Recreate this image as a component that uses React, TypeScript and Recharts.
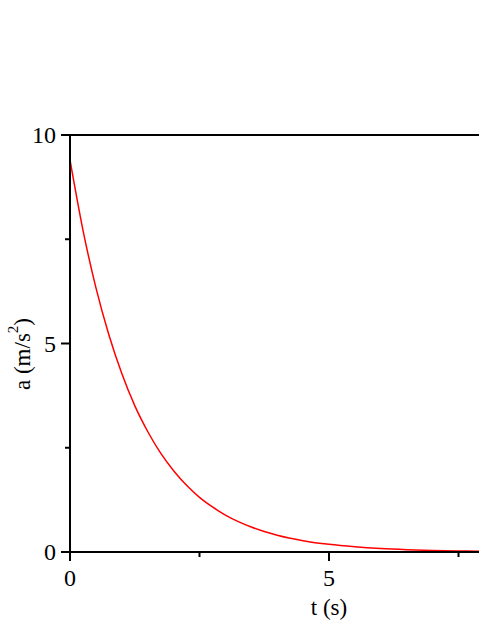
import React from 'react';
import { LineChart, Line, XAxis, YAxis, ReferenceLine } from 'recharts';

const tValues = [0, 0.25, 0.5, 0.75, 1.0, 1.25, 1.5, 1.75, 2.0, 2.25, 2.5, 2.75, 3.0, 3.25, 3.5, 3.75, 4.0, 4.5, 5.0, 5.5, 6.0, 6.5, 7.0, 7.5, 8.0, 9.0, 10.0];
const aValues = [9.4, 7.72, 6.34, 5.21, 4.28, 3.51, 2.89, 2.37, 1.95, 1.6, 1.31, 1.08, 0.886, 0.728, 0.598, 0.491, 0.403, 0.272, 0.183, 0.124, 0.083, 0.056, 0.038, 0.026, 0.017, 0.008, 0.004];
const xTicks = [0, 2.5, 5, 7.5];
const xMajor = [0, 5, 10];
const yTicks = [0, 2.5, 5, 7.5, 10];
const yMajor = [0, 5, 10];
const xLabel = 't (s)';
const yLabelMain = 'a (m/s';
const yLabelSup = '2';
const yLabelEnd = ')';

const data = tValues.map((t, i) => ({ t, a: aValues[i] }));

const FONT = 'Liberation Serif, Times New Roman, serif';
const FS = 24;
const LFS = 23;

const XTick = (props: any) => {
  const { x, y, payload } = props;
  const v = payload.value;
  const major = xMajor.includes(v);
  return (
    <g>
      <line x1={x} x2={x} y1={y} y2={y + (major ? 9 : 5)} stroke="#000" strokeWidth={2} />
      {major && (
        <text x={x} y={y + 26} textAnchor="middle" dominantBaseline="central" fontSize={FS} fontFamily={FONT} fill="#000">
          {v}
        </text>
      )}
    </g>
  );
};

const YTick = (props: any) => {
  const { x, y, payload } = props;
  const v = payload.value;
  const major = yMajor.includes(v);
  return (
    <g>
      <line x1={x - (major ? 9 : 5)} x2={x} y1={y} y2={y} stroke="#000" strokeWidth={2} />
      {major && (
        <text x={x - 14} y={y} textAnchor="end" dominantBaseline="central" fontSize={FS} fontFamily={FONT} fill="#000">
          {v}
        </text>
      )}
    </g>
  );
};

const XLabel = (props: any) => {
  const vb = props.viewBox;
  return (
    <text x={vb.x + vb.width / 2} y={vb.y + 55} textAnchor="middle" dominantBaseline="central" fontSize={LFS} fontFamily={FONT} fill="#000">
      {xLabel}
    </text>
  );
};

const YLabel = (props: any) => {
  const cx = 22;
  const cy = 354;
  return (
    <text x={cx} y={cy} transform={`rotate(-90 ${cx} ${cy})`} textAnchor="middle" dominantBaseline="central" fontSize={LFS} fontFamily={FONT} fill="#000">
      <tspan>{yLabelMain}</tspan>
      <tspan dy={-9} fontSize={15}>{yLabelSup}</tspan>
      <tspan dy={9}>{yLabelEnd}</tspan>
    </text>
  );
};

export default function App() {
  return (
    <div style={{ position: 'absolute', left: 0, top: 0, width: 479, height: 620, overflow: 'hidden', background: '#fff' }}>
      <LineChart width={600} height={620} data={data} margin={{ top: 135, right: 12, bottom: 0, left: 0 }}>
        <XAxis
          dataKey="t"
          type="number"
          domain={[0, 10]}
          ticks={xTicks}
          interval={0}
          tickLine={false}
          tickSize={0}
          tickMargin={0}
          tick={<XTick />}
          height={68}
          axisLine={{ stroke: '#000', strokeWidth: 2 }}
          label={<XLabel />}
        />
        <YAxis
          type="number"
          domain={[0, 10]}
          ticks={yTicks}
          interval={0}
          tickLine={false}
          tickSize={0}
          tickMargin={0}
          tick={<YTick />}
          width={70}
          axisLine={{ stroke: '#000', strokeWidth: 2 }}
          label={<YLabel />}
        />
        <ReferenceLine y={10} stroke="#000" strokeWidth={2} />
        <Line type="monotone" dataKey="a" stroke="#ff0000" strokeWidth={1.5} dot={false} isAnimationActive={false} />
      </LineChart>
    </div>
  );
}
